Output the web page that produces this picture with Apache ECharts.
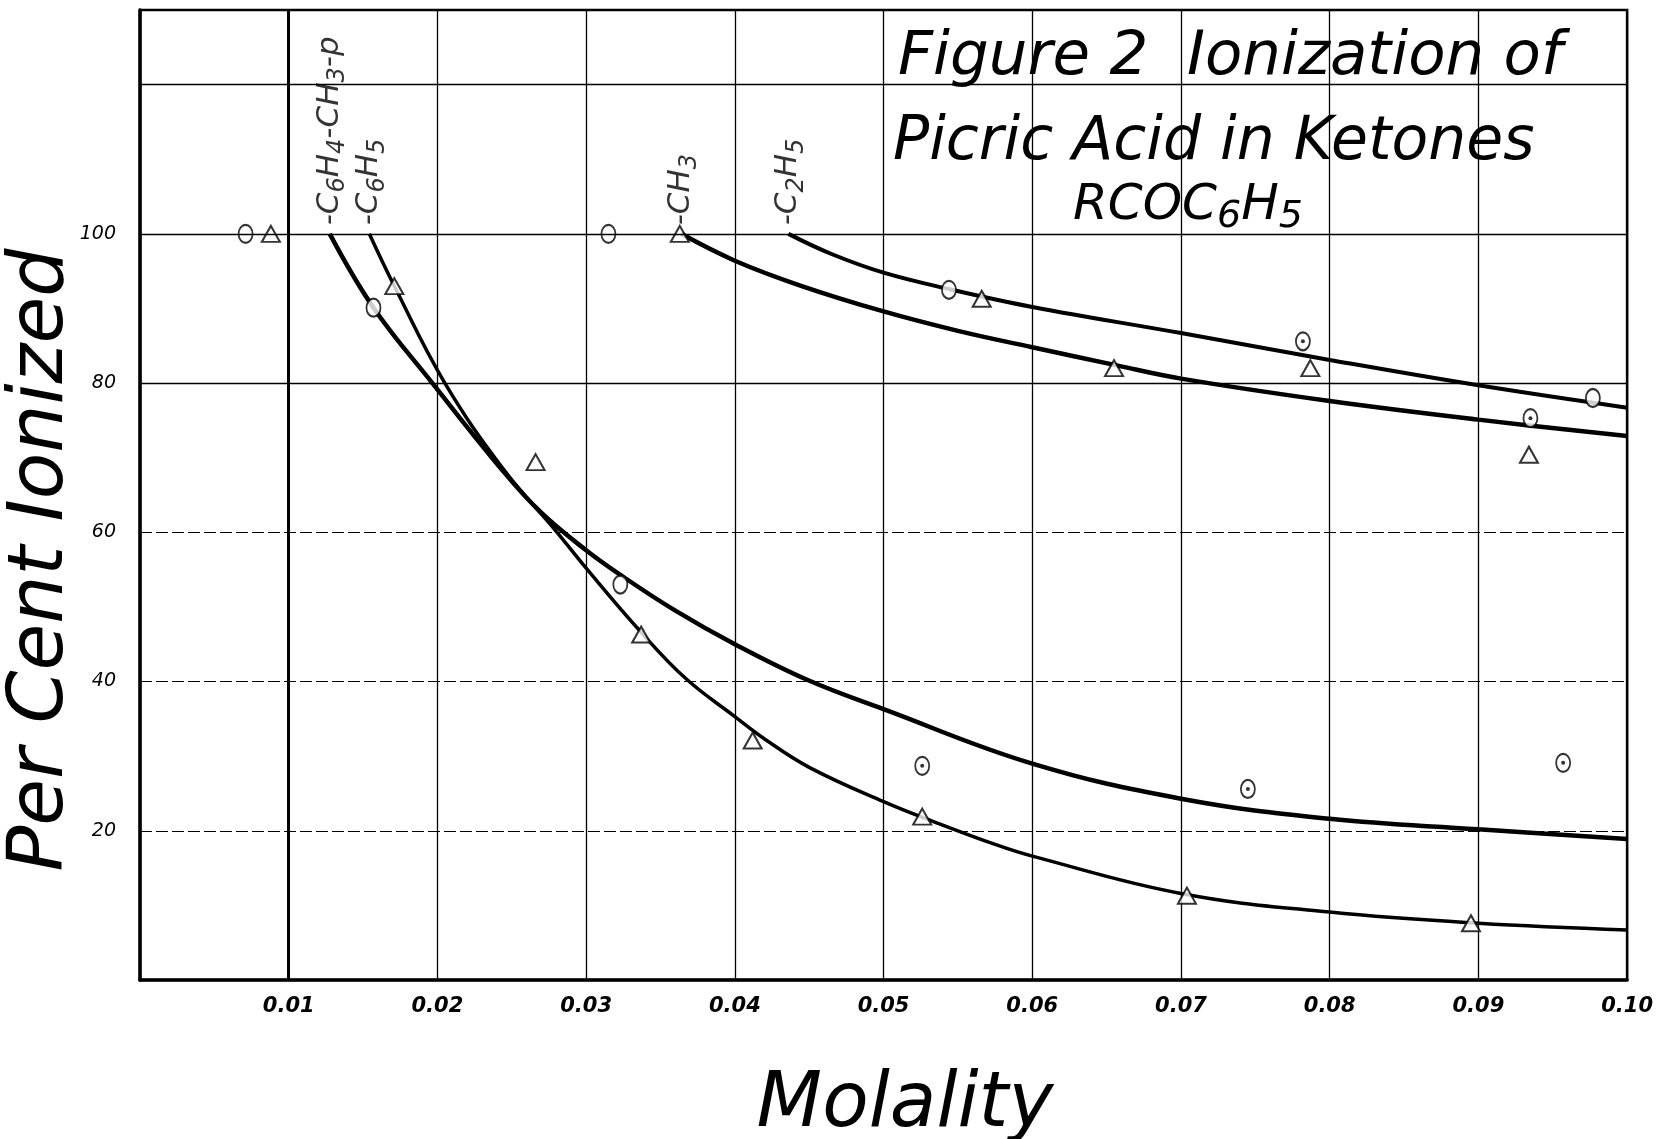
<!DOCTYPE html>
<html>
<head>
<meta charset="utf-8">
<title>Figure 2 Ionization of Picric Acid in Ketones</title>
<script src="https://cdn.jsdelivr.net/npm/echarts@6/dist/echarts.min.js"></script>
<style>
html, body { margin: 0; padding: 0; background: #fff; }
#main { width: 1656px; height: 1139px; }
</style>
</head>
<body>
<div id="main"></div>
<script>
// axis ticks
var xTicks = [0.01, 0.02, 0.03, 0.04, 0.05, 0.06, 0.07, 0.08, 0.09, 0.10];
var yTicks = [20, 40, 60, 80, 100];
var solidGridY = [80, 100, 120];
var boldGridX = [0.01];

// drawn curves: [molality, per cent ionized]
var curveTolyl = [[0.01276,100],[0.0157,90.1],[0.01966,80],[0.0245,68.0],[0.027,62.6],[0.030,57.6],[0.0323,54.3],[0.036,49.5],[0.040,45.0],[0.0449,40.2],[0.050,36.3],[0.060,29.0],[0.070,24.3],[0.080,21.6],[0.090,20.2],[0.100,18.9]];
var curvePhenyl = [[0.01542,100],[0.0171,93.0],[0.0205,80],[0.0245,68.3],[0.028,60.1],[0.030,55.2],[0.0337,46.6],[0.0367,40.4],[0.040,35.3],[0.042,32.3],[0.045,28.5],[0.050,23.9],[0.0534,21.2],[0.0576,18.1],[0.060,16.6],[0.070,11.6],[0.080,9.1],[0.090,7.6],[0.100,6.7]];
var curveMethyl = [[0.0364,100],[0.040,96.4],[0.0445,93.0],[0.050,89.6],[0.055,87.0],[0.060,84.8],[0.0656,82.4],[0.070,80.6],[0.080,77.6],[0.090,75.1],[0.100,72.9]];
var curveEthyl = [[0.0436,100],[0.0465,97.3],[0.050,94.8],[0.0544,92.6],[0.060,90.2],[0.070,86.7],[0.080,83.1],[0.090,79.7],[0.100,76.7]];
// curve names as rich text: {s|..} is a subscript
var curveNames = ['-C{s|6}H{s|4}-CH{s|3}-p', '-C{s|6}H{s|5}', '-CH{s|3}', '-C{s|2}H{s|5}'];

// measured points
var circlePts = [[0.0071,100],[0.0157,90.1],[0.0315,100],[0.0323,53.0],[0.0544,92.5],[0.0977,78.0]];
var dotCirclePts = [[0.0526,28.7],[0.0745,25.6],[0.0782,85.6],[0.0935,75.3],[0.0957,29.1]];
var trianglePts = [[0.0088,100],[0.0171,93.0],[0.0363,100],[0.0266,69.4],[0.0337,46.3],[0.0412,32.1],[0.0526,21.9],[0.0566,91.3],[0.0655,82.0],[0.0704,11.3],[0.0787,82.0],[0.0895,7.6],[0.0934,70.4]];

var titleLines = ['Figure 2  Ionization of', 'Picric Acid in Ketones', 'RCOC{s|6}H{s|5}'];
var xName = 'Molality';
var yName = 'Per Cent Ionized';

var handFont = '"DejaVu Sans", "Liberation Sans", sans-serif';

var myChart = echarts.init(document.getElementById('main'));

var curves = [curveTolyl, curvePhenyl, curveMethyl, curveEthyl];
var widths = [4.5, 3.5, 4.5, 4];

function curveSeries(i) {
    return {
        type: 'line',
        data: curves[i],
        smooth: 0.4,
        symbol: 'none',
        z: 2,
        lineStyle: {color: '#000', width: widths[i]}
    };
}

var series = [];
for (var i = 0; i < curves.length; i++) {
    series.push(curveSeries(i));
}

// solid grid lines over the dashed split lines, and the heavier 0.01 line
series.push({
    type: 'line',
    data: [],
    markLine: {
        silent: true,
        symbol: 'none',
        label: {show: false},
        lineStyle: {color: '#000', width: 1.4, type: 'solid'},
        data: solidGridY.map(function (v) { return {yAxis: v}; })
            .concat(boldGridX.map(function (v) { return {xAxis: v, lineStyle: {width: 3, type: 'solid', color: '#000'}}; }))
    }
});

// curve name labels standing on the start of each curve
series.push({
    type: 'scatter',
    symbol: 'circle',
    symbolSize: 1,
    z: 5,
    itemStyle: {color: 'rgba(0,0,0,0)'},
    data: curves.map(function (c) { return c[0]; }),
    label: {
        show: true,
        position: 'top',
        distance: 8,
        rotate: 90,
        align: 'left',
        verticalAlign: 'middle',
        formatter: function (p) { return curveNames[p.dataIndex]; },
        color: '#000',
        fontSize: 31,
        fontStyle: 'italic',
        fontFamily: handFont,
        rich: {
            s: {fontSize: 24, fontStyle: 'italic', fontFamily: handFont, color: '#000', padding: [16, 0, 0, 0]}
        }
    }
});

series.push({
    type: 'scatter',
    symbol: 'emptyCircle',
    symbolSize: [14, 18],
    z: 4,
    itemStyle: {color: '#000', borderColor: '#000', borderWidth: 3},
    data: circlePts.concat(dotCirclePts)
});
series.push({
    type: 'scatter',
    symbol: 'circle',
    symbolSize: 4,
    z: 5,
    itemStyle: {color: '#000'},
    data: dotCirclePts
});
series.push({
    type: 'scatter',
    symbol: 'emptyTriangle',
    symbolSize: [18, 16],
    z: 4,
    itemStyle: {color: '#000', borderColor: '#000', borderWidth: 3},
    data: trianglePts
});

myChart.setOption({
    backgroundColor: '#fff',
    animation: false,
    grid: {
        left: 140,
        right: 23,
        top: 10,
        bottom: 159,
        show: true,
        borderColor: '#000',
        borderWidth: 2.5
    },
    xAxis: {
        type: 'value',
        min: 0,
        max: 0.1,
        interval: 0.01,
        axisLine: {show: true, onZero: false, lineStyle: {color: '#000', width: 3.5}},
        axisTick: {show: false},
        splitLine: {show: true, lineStyle: {color: '#000', width: 1.3}},
        axisLabel: {
            showMaxLabel: true,
            margin: 16,
            color: '#000',
            fontSize: 21,
            fontStyle: 'italic',
            fontWeight: 'bold',
            fontFamily: handFont,
            formatter: function (v) {
                for (var k = 0; k < xTicks.length; k++) {
                    if (Math.abs(v - xTicks[k]) < 1e-9) return xTicks[k].toFixed(2);
                }
                return '';
            }
        }
    },
    yAxis: {
        type: 'value',
        min: 0,
        max: 130,
        interval: 20,
        axisLine: {show: true, onZero: false, lineStyle: {color: '#000', width: 3.5}},
        axisTick: {show: false},
        splitLine: {show: true, lineStyle: {color: '#000', width: 1, type: [12, 4]}},
        axisLabel: {
            margin: 24,
            color: '#000',
            fontSize: 19,
            fontStyle: 'italic',
            fontFamily: handFont,
            formatter: function (v) {
                return yTicks.indexOf(v) >= 0 ? String(v) : '';
            }
        }
    },
    graphic: [
        {
            type: 'text', x: 898, y: 58,
            style: {text: titleLines[0], fill: '#000', fontSize: 61, fontStyle: 'italic', fontFamily: handFont, verticalAlign: 'middle'}
        },
        {
            type: 'text', x: 893, y: 143,
            style: {text: titleLines[1], fill: '#000', fontSize: 60, fontStyle: 'italic', fontFamily: handFont, verticalAlign: 'middle'}
        },
        {
            type: 'text', x: 1188, y: 206,
            style: {
                text: titleLines[2], fill: '#000', fontSize: 50, fontStyle: 'italic', fontFamily: handFont, align: 'center', verticalAlign: 'middle',
                rich: {s: {fontSize: 38, fontStyle: 'italic', fontFamily: handFont, fill: '#000', padding: [22, 0, 0, 0]}}
            }
        },
        {
            type: 'text', x: 42, y: 560, rotation: Math.PI / 2,
            style: {text: yName, fill: '#000', fontSize: 76, fontStyle: 'italic', fontFamily: handFont, align: 'center', verticalAlign: 'middle'}
        },
        {
            type: 'text', x: 905, y: 1106,
            style: {text: xName, fill: '#000', fontSize: 76, fontStyle: 'italic', fontFamily: handFont, align: 'center', verticalAlign: 'middle'}
        }
    ],
    series: series
});
</script>
</body>
</html>
